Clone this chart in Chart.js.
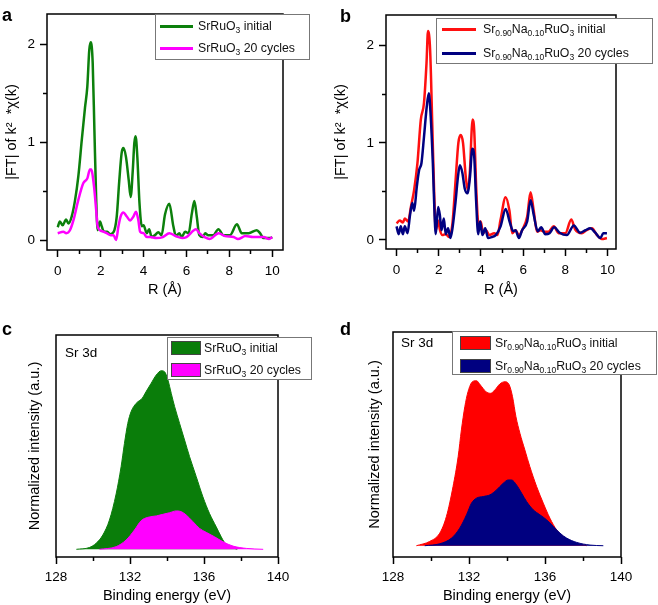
<!DOCTYPE html>
<html><head><meta charset="utf-8">
<script src="https://cdn.jsdelivr.net/npm/chart.js@4.4.0/dist/chart.umd.min.js"></script>
<style>
body{margin:0;background:#fff;width:658px;height:605px;position:relative;overflow:hidden;font-family:"Liberation Sans",Arial,sans-serif;color:#000;}
canvas{position:absolute;}
.lg{position:absolute;background:#fff;border:1px solid #777;box-sizing:border-box;}
.ln{position:absolute;height:3px;}
.sw{position:absolute;height:14px;border:1px solid #444;box-sizing:border-box;}
.tx{position:absolute;font-size:12.3px;line-height:20px;white-space:nowrap;color:#111;}
sub{font-size:8.5px;vertical-align:-3px;line-height:0;}
.lab{position:absolute;font-weight:bold;font-size:18px;line-height:1;}
.sr{position:absolute;font-size:13.5px;line-height:1;}
</style></head><body>
<canvas id="ca" width="329" height="300" style="left:0;top:0;width:329px;height:300px"></canvas>
<canvas id="cb" width="329" height="300" style="left:329px;top:0;width:329px;height:300px"></canvas>
<canvas id="cc" width="329" height="305" style="left:0;top:300px;width:329px;height:305px"></canvas>
<canvas id="cd" width="329" height="305" style="left:329px;top:300px;width:329px;height:305px"></canvas>
<div class="lab" style="left:2px;top:6px">a</div>
<div class="lab" style="left:340px;top:7px">b</div>
<div class="lab" style="left:2px;top:320px">c</div>
<div class="lab" style="left:340px;top:320px">d</div>
<div class="sr" style="left:65px;top:346px">Sr 3d</div>
<div class="sr" style="left:401px;top:336px">Sr 3d</div>
<script>
// ---------- Panel a: EXAFS FT, SrRuO3 ----------
const aInitR  = [0.00,0.10,0.23,0.39,0.50,0.65,0.81,0.96,1.12,1.27,1.38,1.47,1.54,1.63,1.71,1.79,1.86,1.97,2.05,2.16,2.31,2.44,2.60,2.75,2.87,2.98,3.06,3.18,3.31,3.40,3.50,3.57,3.63,3.71,3.81,3.92,4.00,4.15,4.26,4.38,4.53,4.69,4.84,5.00,5.20,5.39,5.51,5.67,5.77,5.94,6.10,6.25,6.37,6.48,6.60,6.77,6.87,7.00,7.25,7.49,7.72,8.03,8.35,8.58,8.90,9.28,9.43,9.59,9.90,10.00];
const aInitFT = [0.13,0.19,0.15,0.21,0.17,0.24,0.41,0.65,1.02,1.35,1.57,1.94,2.02,1.81,1.12,0.44,0.10,0.19,0.14,0.085,0.085,0.06,0.08,0.24,0.61,0.89,0.94,0.85,0.61,0.44,0.72,0.99,1.06,0.85,0.38,0.14,0.15,0.07,0.11,0.03,0.05,0.08,0.05,0.26,0.37,0.14,0.04,0.07,0.03,0.085,0.07,0.27,0.40,0.24,0.05,0.03,0.07,0.05,0.05,0.11,0.05,0.05,0.16,0.07,0.07,0.10,0.07,0.02,0.02,0.03];
const aCycR   = [0.00,0.26,0.40,0.57,0.73,0.96,1.19,1.38,1.50,1.56,1.69,1.79,1.86,1.97,2.13,2.28,2.47,2.60,2.72,2.83,2.93,3.06,3.22,3.37,3.53,3.65,3.76,3.84,4.00,4.15,4.30,4.60,4.90,5.20,5.50,5.80,6.00,6.45,6.60,6.85,7.07,7.50,7.80,8.20,8.40,8.75,9.10,9.60,9.85,10.00];
const aCycFT  = [0.07,0.085,0.07,0.10,0.20,0.41,0.58,0.63,0.72,0.72,0.55,0.31,0.14,0.10,0.085,0.07,0.05,0.05,0.00,0.14,0.24,0.28,0.24,0.20,0.24,0.29,0.20,0.085,0.07,0.03,0.03,0.02,0.03,0.07,0.04,0.02,0.03,0.11,0.07,0.03,0.01,0.07,0.04,0.03,0.01,0.04,0.03,0.03,0.01,0.03];
// ---------- Panel b: EXAFS FT, Sr0.90Na0.10RuO3 ----------
const bInitR  = [0.00,0.15,0.30,0.39,0.55,0.68,0.83,0.99,1.15,1.30,1.42,1.49,1.59,1.70,1.78,1.86,1.97,2.06,2.17,2.33,2.50,2.65,2.80,2.93,3.04,3.15,3.28,3.38,3.48,3.56,3.60,3.68,3.78,3.88,3.99,4.10,4.24,4.40,4.63,4.78,4.93,5.17,5.35,5.48,5.64,5.80,5.95,6.19,6.35,6.50,6.66,6.82,7.00,7.20,7.45,7.68,8.00,8.28,8.46,8.78,9.00,9.26,9.50,9.73,9.97];
const bInitFT = [0.17,0.20,0.18,0.22,0.19,0.34,0.51,0.79,1.24,1.41,1.82,2.15,1.96,1.13,0.51,0.10,0.20,0.10,0.05,0.06,0.03,0.17,0.62,1.00,1.08,1.00,0.65,0.51,0.72,1.13,1.24,1.13,0.51,0.17,0.19,0.07,0.10,0.05,0.07,0.05,0.21,0.44,0.30,0.07,0.10,0.05,0.10,0.24,0.49,0.30,0.085,0.10,0.085,0.085,0.14,0.07,0.07,0.21,0.11,0.07,0.10,0.12,0.05,0.01,0.02];
const bCycR   = [0.00,0.10,0.20,0.30,0.39,0.52,0.64,0.75,0.83,0.96,1.07,1.18,1.30,1.43,1.53,1.62,1.72,1.80,1.86,1.97,2.05,2.13,2.24,2.33,2.44,2.55,2.65,2.79,2.91,3.00,3.12,3.23,3.36,3.48,3.59,3.68,3.77,3.87,3.96,4.07,4.20,4.34,4.50,4.70,4.93,5.17,5.37,5.53,5.64,5.80,5.95,6.19,6.35,6.50,6.69,6.85,7.05,7.25,7.47,7.73,8.07,8.40,8.70,8.95,9.18,9.42,9.66,9.80,9.97];
const bCycFT  = [0.14,0.06,0.14,0.06,0.14,0.07,0.26,0.38,0.30,0.55,0.72,0.79,1.06,1.37,1.51,1.27,0.79,0.27,0.06,0.34,0.26,0.10,0.22,0.06,0.12,0.02,0.12,0.38,0.65,0.77,0.69,0.53,0.48,0.65,0.94,0.86,0.41,0.06,0.19,0.05,0.12,0.02,0.03,0.05,0.14,0.32,0.18,0.09,0.10,0.02,0.10,0.19,0.41,0.26,0.09,0.13,0.06,0.07,0.13,0.075,0.05,0.15,0.075,0.10,0.12,0.075,0.02,0.07,0.07];
// ---------- Panel c: XPS Sr 3d, SrRuO3 ----------
const cInitE  = [129.1,129.8,130.17,130.53,130.89,131.25,131.52,131.7,131.88,132.06,132.33,132.66,132.87,133.14,133.42,133.69,133.87,134.05,134.23,134.41,134.68,134.95,135.22,135.58,135.94,136.3,136.66,136.93,137.1,137.4,137.8];
const cInitI  = [0,0.01,0.034,0.08,0.164,0.31,0.463,0.593,0.705,0.771,0.817,0.846,0.883,0.929,0.976,1.0,0.994,0.948,0.873,0.80,0.705,0.612,0.519,0.407,0.294,0.20,0.126,0.07,0.04,0.015,0];
const cCycE   = [130.35,131.25,131.79,132.24,132.6,132.96,133.42,133.78,134.14,134.5,134.77,135.04,135.4,135.76,136.12,136.57,137.03,137.57,138.3,139.2];
const cCycI   = [0,0.015,0.052,0.108,0.16,0.179,0.187,0.196,0.205,0.215,0.211,0.192,0.155,0.117,0.095,0.07,0.042,0.018,0.005,0];
// ---------- Panel d: XPS Sr 3d, Sr0.90Na0.10RuO3 ----------
const dInitE  = [129.23,129.93,130.46,130.81,131.16,131.43,131.6,131.78,131.95,132.18,132.39,132.6,132.89,133.13,133.36,133.62,133.89,134.12,134.29,134.47,134.68,134.94,135.2,135.56,135.91,136.26,136.61,136.96,137.3,137.8,138.2];
const dInitI  = [0,0.026,0.076,0.176,0.357,0.538,0.699,0.839,0.93,0.99,0.996,0.97,0.93,0.92,0.94,0.976,0.99,0.97,0.90,0.779,0.679,0.578,0.478,0.357,0.257,0.166,0.096,0.056,0.03,0.01,0];
const dCycE   = [129.67,130.46,131.08,131.51,131.87,132.13,132.39,132.75,133.1,133.45,133.8,134.06,134.24,134.5,134.77,135.03,135.38,135.73,136.08,136.44,136.79,137.14,137.67,138.37,139.07];
const dCycI   = [0,0.012,0.046,0.106,0.187,0.257,0.287,0.297,0.307,0.337,0.377,0.397,0.397,0.367,0.317,0.267,0.217,0.187,0.157,0.116,0.076,0.046,0.02,0.004,0];
// ---------- Ticks & labels ----------
const ftXMajor  = [0,2,4,6,8,10];
const ftXMinor  = [1,3,5,7,9];
const ftYMajor  = [0,1,2];
const ftYMinor  = [0.5,1.5];
const beXMajor  = [128,132,136,140];
const beXMinor  = [130,134,138];
const legA = ['SrRuO<sub>3</sub> initial','SrRuO<sub>3</sub> 20 cycles'];
const legB = ['Sr<sub>0.90</sub>Na<sub>0.10</sub>RuO<sub>3</sub> initial','Sr<sub>0.90</sub>Na<sub>0.10</sub>RuO<sub>3</sub> 20 cycles'];
const colA = ['#0c800c','#ff00ff'];
const colB = ['#ff1010','#000080'];
const colC = ['#0a7d0a','#ff00ff'];
const colD = ['#ff0000','#000080'];

const FONT = '"Liberation Sans", Arial, sans-serif';
const pts = (xs, ys) => xs.map((x, i) => ({x, y: ys[i]}));

const boxPlugin = {id:'box', afterDraw(chart){
  const {ctx, chartArea:a} = chart;
  ctx.save(); ctx.strokeStyle = '#000'; ctx.lineWidth = 1.5;
  ctx.strokeRect(a.left, a.top, a.right - a.left, a.bottom - a.top);
  ctx.restore();
}};

function majorAxis(pos, min, max, ticks, fit, title, tpad, lpad){
  const horiz = pos === 'bottom';
  return {
    type:'linear', position:pos, weight:1, min, max,
    afterBuildTicks: s => { s.ticks = ticks.map(v => ({value:v})); },
    afterFit: s => { if (horiz) s.height = fit; else s.width = fit; },
    grid:{display:true, drawOnChartArea:false, drawTicks:true, tickLength:7, tickWidth:1.5, tickColor:'#000'},
    border:{display:false},
    ticks:{autoSkip:false, maxRotation:0, minRotation:0, color:'#000', padding:lpad,
      font:{size:13.5, family:FONT}, callback:(v) => String(v)},
    title:{display:true, text:title, color:'#000', font:{size:14.5, family:FONT}, padding: tpad}
  };
}
function minorAxis(pos, min, max, ticks){
  const horiz = pos === 'bottom';
  return {
    type:'linear', position:pos, weight:0, min, max,
    afterBuildTicks: s => { s.ticks = ticks.map(v => ({value:v})); },
    afterFit: s => { if (horiz) s.height = 0; else s.width = 0; },
    grid:{display:true, drawOnChartArea:false, drawTicks:true, tickLength:4, tickWidth:1.5, tickColor:'#000'},
    border:{display:false},
    ticks:{display:false, autoSkip:false}
  };
}
function bareY(min, max, fit, title, tpad){
  return {
    type:'linear', position:'left', min, max,
    afterFit: s => { s.width = fit; },
    grid:{display:false}, border:{display:false},
    ticks:{display:false},
    title:{display:true, text:title, color:'#000', font:{size:14.5, family:FONT}, padding: tpad}
  };
}
function baseOpts(pad, scales){
  return {
    responsive:false, animation:false, devicePixelRatio:1,
    layout:{padding:pad},
    plugins:{legend:{display:false}, tooltip:{enabled:false}},
    elements:{point:{radius:0}},
    scales
  };
}
function lineDs(data, color, order){
  return {data, borderColor:color, borderWidth:2.5, fill:false, cubicInterpolationMode:'monotone', order, xAxisID:'x', yAxisID:'y'};
}
function areaDs(data, color, order){
  return {data, borderColor:color, backgroundColor:color, borderWidth:1, fill:'origin', cubicInterpolationMode:'monotone', order, xAxisID:'x', yAxisID:'y'};
}

// Panel a
new Chart(document.getElementById('ca'), {
  type:'line',
  data:{datasets:[lineDs(pts(aInitR, aInitFT), colA[0], 1), lineDs(pts(aCycR, aCycFT), colA[1], 0)]},
  options: baseOpts({left:0, top:14, right:46, bottom:0}, {
    x:  majorAxis('bottom', -0.5, 10.5, ftXMajor, 50, 'R (Å)', {top:0, bottom:1}, 6),
    x2: minorAxis('bottom', -0.5, 10.5, ftXMinor),
    y:  majorAxis('left', -0.102, 2.31, ftYMajor, 47, '|FT| of k²  *χ(k)', {top:3, bottom:0}, 5),
    y2: minorAxis('left', -0.102, 2.31, ftYMinor)
  }),
  plugins:[boxPlugin]
});
// Panel b
new Chart(document.getElementById('cb'), {
  type:'line',
  data:{datasets:[lineDs(pts(bInitR, bInitFT), colB[0], 1), lineDs(pts(bCycR, bCycFT), colB[1], 0)]},
  options: baseOpts({left:0, top:15, right:42, bottom:0}, {
    x:  majorAxis('bottom', -0.5, 10.4, ftXMajor, 51, 'R (Å)', {top:0, bottom:1}, 6),
    x2: minorAxis('bottom', -0.5, 10.4, ftXMinor),
    y:  majorAxis('left', -0.093, 2.316, ftYMajor, 57, '|FT| of k²  *χ(k)', {top:3, bottom:0}, 5),
    y2: minorAxis('left', -0.093, 2.316, ftYMinor)
  }),
  plugins:[boxPlugin]
});
// Panel c
new Chart(document.getElementById('cc'), {
  type:'line',
  data:{datasets:[areaDs(pts(cInitE, cInitI), colC[0], 1), areaDs(pts(cCycE, cCycI), colC[1], 0)]},
  options: baseOpts({left:0, top:35, right:51, bottom:0}, {
    x:  majorAxis('bottom', 128, 140, beXMajor, 48, 'Binding energy (eV)', {top:0, bottom:0}, 5),
    x2: minorAxis('bottom', 128, 140, beXMinor),
    y:  bareY(-0.043, 1.2, 56, 'Normalized intensity (a.u.)', {top:26, bottom:0})
  }),
  plugins:[boxPlugin]
});
// Panel d
new Chart(document.getElementById('cd'), {
  type:'line',
  data:{datasets:[areaDs(pts(dInitE, dInitI), colD[0], 1), areaDs(pts(dCycE, dCycI), colD[1], 0)]},
  options: baseOpts({left:0, top:32, right:37, bottom:0}, {
    x:  majorAxis('bottom', 128, 140, beXMajor, 48, 'Binding energy (eV)', {top:0, bottom:0}, 5),
    x2: minorAxis('bottom', 128, 140, beXMinor),
    y:  bareY(-0.068, 1.29, 64, 'Normalized intensity (a.u.)', {top:37, bottom:0})
  }),
  plugins:[boxPlugin]
});

// Legends (HTML, real text)
function legend(left, top, w, h, labels, colors, kind, sx, sw, tx, rows){
  const box = document.createElement('div');
  box.className = 'lg';
  Object.assign(box.style, {left:left+'px', top:top+'px', width:w+'px', height:h+'px'});
  labels.forEach((lab, i) => {
    const cy = rows[i];
    const m = document.createElement('div');
    if (kind === 'line') {
      m.className = 'ln';
      Object.assign(m.style, {left:sx+'px', width:sw+'px', top:(cy-1.5)+'px', background:colors[i]});
    } else {
      m.className = 'sw';
      Object.assign(m.style, {left:sx+'px', width:sw+'px', top:(cy-7)+'px', background:colors[i]});
    }
    box.appendChild(m);
    const t = document.createElement('div');
    t.className = 'tx';
    t.innerHTML = lab;
    Object.assign(t.style, {left:tx+'px', top:(cy-10)+'px'});
    box.appendChild(t);
  });
  document.body.appendChild(box);
}
legend(155, 14, 155, 46, legA, colA, 'line', 4, 33, 42, [11, 33]);
legend(436, 18, 217, 46, legB, colB, 'line', 5, 34, 46, [10, 34]);
legend(167, 337, 145, 43, legA, colC, 'box', 3, 30, 36, [9.5, 31.5]);
legend(452, 331, 205, 44, legB, colD, 'box', 7, 31, 42, [10.5, 33.5]);
</script>
</body></html>
